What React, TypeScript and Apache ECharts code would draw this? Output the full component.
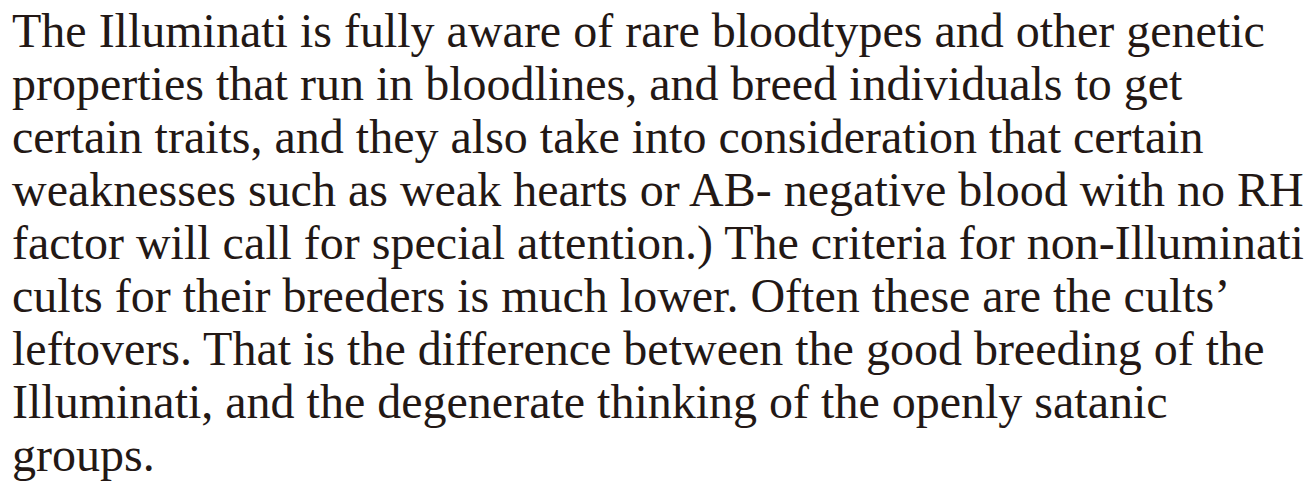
import React, { useEffect, useRef } from "react";
import * as echarts from "echarts";

const lines: string[] = [
  "The Illuminati is fully aware of rare bloodtypes and other genetic",
  "properties that run in bloodlines, and breed individuals to get",
  "certain traits, and they also take into consideration that certain",
  "weaknesses such as weak hearts or AB- negative blood with no RH",
  "factor will call for special attention.) The criteria for non-Illuminati",
  "cults for their breeders is much lower. Often these are the cults\u2019",
  "leftovers. That is the difference between the good breeding of the",
  "Illuminati, and the degenerate thinking of the openly satanic",
  "groups.",
];

export default function App() {
  const ref = useRef<HTMLDivElement>(null);
  useEffect(() => {
    const chart = echarts.init(ref.current!, null, { renderer: "svg" });
    chart.setOption({
      animation: false,
      graphic: lines.map((t, i) => ({
        type: "text",
        x: 12,
        y: 30.5 + i * 53,
        style: {
          text: t,
          fontFamily: "'Liberation Serif', 'Times New Roman', serif",
          fontSize: 48,
          fill: "#231815",
          verticalAlign: "middle",
        },
      })),
    });
    return () => chart.dispose();
  }, []);
  return <div ref={ref} style={{ width: 1312, height: 483, position: "absolute", left: 0, top: 0 }} />;
}
